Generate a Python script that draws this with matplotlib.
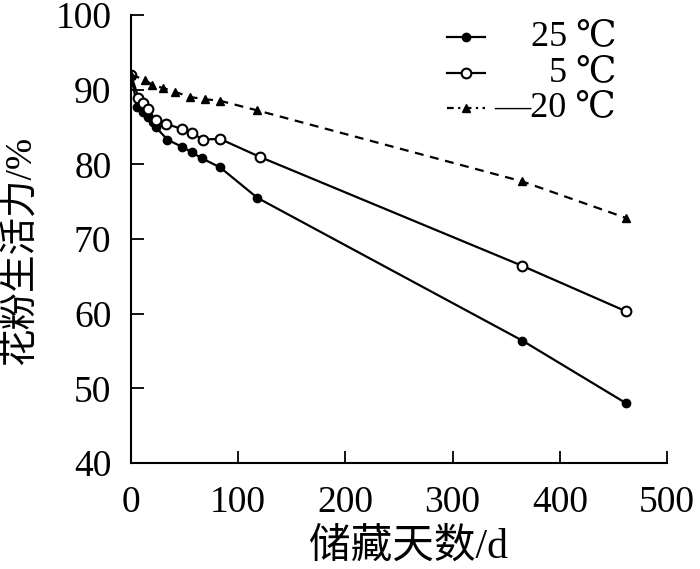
import matplotlib
matplotlib.use("Agg")
import matplotlib.pyplot as plt
from matplotlib.lines import Line2D

plt.rcParams['font.family'] = ['Liberation Serif', 'DejaVu Serif', 'Noto Sans CJK SC']

# storage days and pollen viability (%)
days_25 = [0, 6, 11, 16, 21, 23, 34, 48, 57, 66, 83, 118, 365, 462]
viab_25 = [92.0, 87.6, 87.0, 86.3, 85.7, 85.0, 83.3, 82.3, 81.6, 80.8, 79.6, 75.5, 56.4, 48.0]

days_5 = [0, 7, 11, 16, 23, 33, 48, 57, 67, 83, 120, 365, 462]
viab_5 = [92.0, 88.9, 88.2, 87.4, 85.9, 85.4, 84.7, 84.2, 83.3, 83.4, 81.0, 66.4, 60.3]

days_m20 = [0, 13, 20, 30, 41, 55, 69, 83, 118, 365, 462]
viab_m20 = [92.0, 91.3, 90.6, 90.2, 89.7, 89.0, 88.7, 88.5, 87.2, 77.7, 72.8]

labels = ["25 \u2103", "5 \u2103", "\u201420 \u2103"]

fig = plt.figure(figsize=(7, 5.69), dpi=100)
ax = fig.add_axes([0.187, 0.186, 0.766, 0.788])

ax.plot(days_25, viab_25, color="black", lw=1.6, marker="o", ms=6,
        mfc="black", mec="black")
ax.plot(days_5, viab_5, color="black", lw=1.6, marker="o", ms=7,
        mfc="white", mec="black", mew=1.5)
ax.plot(days_m20, viab_m20, color="black", lw=1.6, ls=(0, (4, 3)),
        marker="^", ms=6, mfc="black", mec="black")

ax.set_xlim(0, 500)
ax.set_ylim(40, 100)
ax.set_xticks(range(0, 501, 100))
ax.set_yticks(range(40, 101, 10))
ax.spines["top"].set_visible(False)
ax.spines["right"].set_visible(False)
for s in ["left", "bottom"]:
    ax.spines[s].set_linewidth(1.5)
ax.tick_params(direction="in", length=9, width=1.3, labelsize=27, pad=16)
ax.tick_params(axis="y", pad=14)

ax.set_xlabel("储藏天数/d", fontsize=30)
ax.xaxis.set_label_coords(0.517, -0.145)
ax.set_ylabel("花粉生活力/%", fontsize=27)
ax.yaxis.set_label_coords(-0.172, 0.475)

# legend drawn by hand so the labels sit right-aligned
styles = [dict(ls="-", marker="o", ms=6, mfc="black"),
          dict(ls="-", marker="o", ms=7, mfc="white", mew=1.5),
          dict(ls=(0, (3, 2, 1, 2)), marker="^", ms=6, mfc="black")]
ys = [0.951, 0.871, 0.792]
for st, y, lab in zip(styles, ys, labels):
    ax.add_line(Line2D([0.59, 0.625, 0.66], [y, y, y], transform=ax.transAxes,
                       color="black", lw=1.6, mec="black", markevery=[1], **st))
    ax.text(0.905, y, lab, transform=ax.transAxes, ha="right", va="center",
            fontsize=26)

fig.savefig("out.png", dpi=100)
